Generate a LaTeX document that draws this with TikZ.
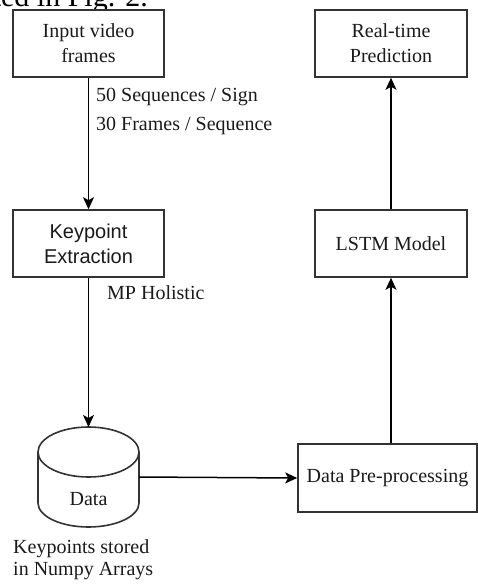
\documentclass[tikz,border=0pt]{standalone}
\usepackage{fontspec}
\setmainfont{Liberation Serif}
\newfontfamily\arialfont{Liberation Sans}
\usetikzlibrary{arrows.meta}
\definecolor{edge}{HTML}{333333}
\definecolor{ink}{HTML}{1A1A1A}
\tikzset{
  stepbox/.style={draw=edge, line width=1.6pt, fill=white, rectangle,
    inner sep=0pt, text=ink, align=center,
    font=\fontsize{20}{25}\selectfont},
  flow/.style={draw=black, line width=1.5pt,
    -{Stealth[length=12pt,width=11pt,inset=3pt]}},
  note/.style={text=ink, inner sep=0pt, anchor=west,
    font=\fontsize{20}{24}\selectfont},
}
\begin{document}
\begin{tikzpicture}[x=1pt, y=-1pt]
\useasboundingbox (0,0) rectangle (477,585);

% caption line of the surrounding text, cut at the top edge
\begin{scope}
  \clip (0,0) rectangle (477,585);
  \node[anchor=base east, inner sep=0pt, text=black,
        font=\fontsize{30}{32}\selectfont] (caption) at (148,6.5) {ted in Fig. 2.};
\end{scope}

% process boxes
\node[stepbox, minimum width=151pt, minimum height=67pt] (input) at (88.5,43.5)
  {Input video\\frames};
\node[stepbox, minimum width=151pt, minimum height=67pt,
      font=\arialfont\fontsize{20}{25}\selectfont] (kp) at (88.5,243.5)
  {Keypoint\\Extraction};
\node[stepbox, minimum width=152pt, minimum height=67pt] (rt) at (391,43.5)
  {Real-time\\Prediction};
\node[stepbox, minimum width=152pt, minimum height=67pt] (lstm) at (391,243.5)
  {LSTM Model};
\node[stepbox, minimum width=179pt, minimum height=68pt] (pre) at (387.5,478)
  {Data Pre-processing};

% data store (cylinder)
\draw[edge, line width=1.6pt, fill=white]
  (38,452) -- (38,503) arc[start angle=180, end angle=360, x radius=50.5, y radius=-24]
  -- (139,452);
\draw[edge, line width=1.6pt, fill=white]
  (88.5,452) ellipse[x radius=50.5, y radius=25];
\node[text=ink, inner sep=0pt, font=\fontsize{20}{24}\selectfont] (data) at (88.5,499) {Data};
\coordinate (datatop) at (88.5,427);
\coordinate (dataright) at (139,477);

% labels
\node[note] (seq) at (96,97) {50 Sequences / Sign};
\node[note] (frm) at (96,126) {30 Frames / Sequence};
\node[note] (mp) at (107,293) {MP Holistic};
\node[note, align=left, anchor=north west, font=\fontsize{20}{22}\selectfont]
  (store) at (13,539) {Keypoints stored\\in Numpy Arrays};

% connectors
\draw[flow] (input.south) -- (kp.north);
\draw[flow] (kp.south) -- (datatop);
\draw[flow] (dataright) -- (pre.west);
\draw[flow] (lstm.south |- pre.north) -- (lstm.south);
\draw[flow] (lstm.north) -- (rt.south);
\end{tikzpicture}
\end{document}
